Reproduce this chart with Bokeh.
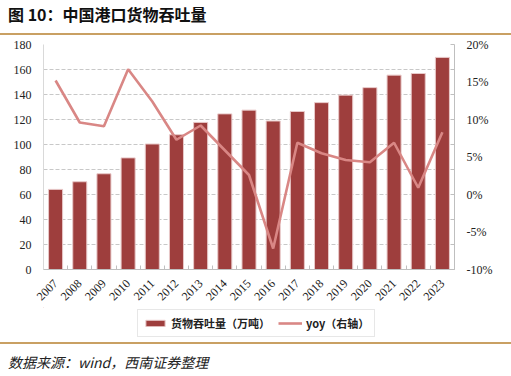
from math import pi
from bokeh.plotting import figure
from bokeh.models import (Range1d, LinearAxis, FixedTicker, Legend, LegendItem, Div)
from bokeh.layouts import column
from bokeh.embed import file_html
from bokeh.resources import INLINE

years = [str(y) for y in range(2007, 2024)]
throughput = [64.1, 70.2, 76.6, 89.3, 100.4, 107.8, 117.7, 124.5, 127.5, 118.8,
              126.4, 133.5, 139.5, 145.5, 155.5, 156.8, 169.7]
yoy = [15.2, 9.6, 9.1, 16.7, 12.4, 7.3, 9.2, 5.9, 2.6, -7.2,
       6.9, 5.5, 4.6, 4.3, 6.9, 0.9, 8.3]
left_ticks = [0, 20, 40, 60, 80, 100, 120, 140, 160, 180]
right_ticks = [-10, -5, 0, 5, 10, 15, 20]
right_labels = {t: f"{t}%" for t in right_ticks}
title_text = "图 10：中国港口货物吞吐量"
source_text = "数据来源：wind，西南证券整理"
bar_label = "货物吞吐量（万吨）"
line_label = "yoy（右轴）"

BAR = "#9e3e3d"
LINE = "#d98785"
GOLD = "#c9a063"
SERIF = "Liberation Serif"
CJK = "Noto Sans CJK SC"

idx = list(range(1, len(years) + 1))

p = figure(width=511, height=272, output_backend="svg", toolbar_location=None,
           x_range=Range1d(0.5, len(years) + 0.5), y_range=Range1d(0, 180),
           min_border_left=43, min_border_right=57, min_border_top=9,
           min_border_bottom=37)
p.outline_line_color = None
p.extra_y_ranges = {"pct": Range1d(-10, 20)}

bar_style = dict(fill_color=BAR, line_color="#e8c8c8", line_width=1)
line_style = dict(line_color=LINE, line_width=2.6)

bars = p.vbar(x=idx, top=throughput, width=0.58, **bar_style)
ln = p.line(x=idx, y=yoy, y_range_name="pct", **line_style)

# axes
p.xaxis.ticker = FixedTicker(ticks=idx, minor_ticks=[i + 0.5 for i in range(0, len(years) + 1)])
p.xaxis.major_label_overrides = {i: y for i, y in zip(idx, years)}
p.xaxis.major_label_orientation = pi / 4
p.xaxis.major_tick_line_color = None
p.xaxis.minor_tick_in = 4
p.xaxis.minor_tick_out = 0
p.xaxis.minor_tick_line_color = "#bfbfbf"
p.xaxis.axis_line_color = "#bfbfbf"

p.yaxis.ticker = FixedTicker(ticks=left_ticks)
p.yaxis.major_tick_line_color = None
p.yaxis.minor_tick_line_color = None
p.yaxis.axis_line_color = "#d9d9d9"

ra = LinearAxis(y_range_name="pct", ticker=FixedTicker(
    ticks=right_ticks, minor_ticks=[-10 + 30 * k / 9 for k in range(10)]))
ra.major_label_overrides = right_labels
ra.major_tick_line_color = None
ra.minor_tick_in = 4
ra.minor_tick_out = 0
ra.minor_tick_line_color = "#bfbfbf"
ra.axis_line_color = "#bfbfbf"
p.add_layout(ra, "right")

for ax in [p.xaxis[0], p.yaxis[0], ra]:
    ax.major_label_text_font = SERIF
    ax.major_label_text_font_size = "12px"
    ax.major_label_text_color = "#222222"
    ax.major_label_standoff = 6

p.xgrid.grid_line_color = None
p.ygrid.ticker = FixedTicker(ticks=left_ticks)
p.ygrid.grid_line_color = "#c8c8c8"
p.ygrid.grid_line_dash = "4 2"
p.ygrid.grid_line_width = 1

# legend strip (separate figure so the legend is not clipped);
# its renderers hold one off-range sample each so that legend glyphs draw
lg = figure(width=511, height=35, output_backend="svg", toolbar_location=None,
            x_range=Range1d(0, 1), y_range=Range1d(0, 1),
            min_border=0, min_border_left=0, min_border_right=0,
            min_border_top=0, min_border_bottom=0)
lg.axis.visible = False
lg.grid.visible = False
lg.outline_line_color = None
lb = lg.vbar(x=idx[:1], top=throughput[:1], bottom=throughput[:1], width=0.01,
             x_range_name="default", **bar_style)
lb.visible = True
ll = lg.line(x=idx[:2], y=yoy[:2], **line_style)
# push the sample marks off the legend strip's visible ranges
lg.x_range = Range1d(100, 101)

legend = Legend(items=[LegendItem(label=bar_label, renderers=[lb]),
                       LegendItem(label=line_label, renderers=[ll])],
                orientation="horizontal", location=(94, 5))
legend.label_text_font = CJK
legend.label_text_font_size = "11px"
legend.label_text_font_style = "bold"
legend.label_text_color = "#222222"
legend.glyph_width = 24
legend.glyph_height = 8
legend.label_height = 12
legend.label_standoff = 4
legend.spacing = 8
legend.padding = 5
legend.margin = 0
legend.border_line_color = "#d0d0d0"
lg.add_layout(legend, "center")

title_div = Div(text=f'<div style="font-family:\'{CJK}\';font-size:16px;font-weight:bold;'
                     f'color:#111;padding:4px 0 0 8px;line-height:20px;">{title_text}</div>',
                width=511, height=35, margin=0,
                styles={"border-bottom": f"2px solid {GOLD}", "box-sizing": "border-box"})
source_div = Div(text=f'<div style="font-family:\'{CJK}\';font-size:14px;font-style:italic;'
                      f'color:#222;padding:8px 0 0 8px;line-height:20px;">{source_text}</div>',
                 width=511, height=34, margin=0,
                 styles={"border-top": f"2px solid {GOLD}", "box-sizing": "border-box"})

layout = column(title_div, p, lg, source_div, spacing=0, margin=0)
open("out.html", "w").write(file_html(layout, INLINE))
